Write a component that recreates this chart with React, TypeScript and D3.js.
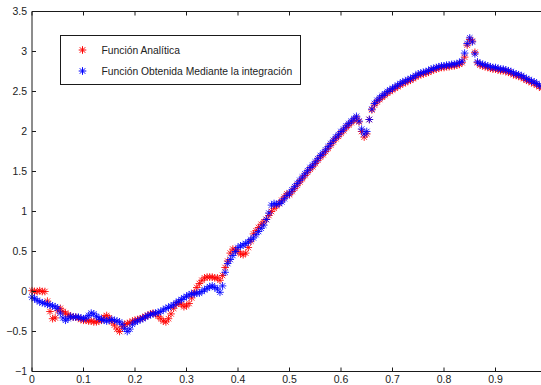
import * as d3 from "d3"

// sample step of both series (x = i * STEP)
const STEP = 0.005

const analitica = [
  0.01, 0.0, 0.0, 0.01, 0.0, 0.0, -0.12, -0.25, -0.34, -0.33,
  -0.24, -0.21, -0.25, -0.27, -0.29, -0.31, -0.32, -0.32, -0.33, -0.35,
  -0.36, -0.36, -0.37, -0.37, -0.38, -0.38, -0.37, -0.36, -0.32, -0.3,
  -0.33, -0.38, -0.42, -0.47, -0.5, -0.44, -0.41, -0.4, -0.39, -0.37,
  -0.36, -0.35, -0.34, -0.33, -0.31, -0.3, -0.28, -0.27, -0.28, -0.31,
  -0.34, -0.37, -0.38, -0.34, -0.28, -0.21, -0.16, -0.14, -0.16, -0.19,
  -0.18, -0.15, -0.08, -0.01, 0.05, 0.1, 0.14, 0.17, 0.18, 0.18,
  0.18, 0.17, 0.17, 0.14, 0.2, 0.3, 0.38, 0.48, 0.53, 0.52,
  0.5, 0.47, 0.46, 0.48, 0.55, 0.63, 0.72, 0.76, 0.8, 0.84,
  0.87, 0.9, 0.95, 1.0, 1.04, 1.07, 1.1, 1.14, 1.18, 1.22,
  1.21, 1.25, 1.29, 1.33, 1.37, 1.41, 1.45, 1.49, 1.53, 1.56,
  1.6, 1.64, 1.68, 1.71, 1.75, 1.79, 1.83, 1.87, 1.91, 1.94,
  1.98, 2.01, 2.05, 2.08, 2.11, 2.14, 2.17, 2.12, 2.0, 1.93,
  1.97, 2.15, 2.27, 2.33, 2.37, 2.4, 2.43, 2.45, 2.48, 2.5,
  2.52, 2.54, 2.56, 2.58, 2.6, 2.61, 2.63, 2.64, 2.66, 2.68,
  2.7, 2.71, 2.72, 2.73, 2.74, 2.76, 2.77, 2.78, 2.79, 2.8,
  2.8, 2.81, 2.81, 2.82, 2.82, 2.83, 2.84, 2.86, 2.93, 3.08,
  3.15, 3.13, 2.99, 2.86, 2.83, 2.82, 2.81, 2.8, 2.79, 2.78,
  2.78, 2.77, 2.76, 2.76, 2.75, 2.74, 2.73, 2.71, 2.7, 2.69,
  2.68, 2.66, 2.64, 2.63, 2.61, 2.6, 2.58, 2.56, 2.54,
]

const integracion = [
  -0.07, -0.09, -0.11, -0.13, -0.14, -0.15, -0.16, -0.17, -0.18, -0.19,
  -0.21, -0.27, -0.33, -0.36, -0.34, -0.31, -0.32, -0.32, -0.32, -0.33,
  -0.34, -0.33, -0.3, -0.27, -0.28, -0.31, -0.33, -0.35, -0.36, -0.37,
  -0.36, -0.35, -0.36, -0.37, -0.38, -0.41, -0.46, -0.5, -0.47, -0.41,
  -0.38, -0.37, -0.35, -0.34, -0.32, -0.3, -0.29, -0.28, -0.27, -0.26,
  -0.25, -0.23, -0.21, -0.2, -0.18, -0.17, -0.14, -0.12, -0.1, -0.08,
  -0.06, -0.04, -0.03, -0.03, -0.02, -0.02, 0.0, 0.02, 0.04, 0.06,
  0.07, 0.05, 0.03, -0.01, 0.07, 0.24, 0.35, 0.4, 0.45, 0.5,
  0.55, 0.57, 0.58, 0.6, 0.62, 0.65, 0.67, 0.71, 0.75, 0.79,
  0.83, 0.9, 0.98, 1.08, 1.1, 1.09, 1.1, 1.12, 1.16, 1.2,
  1.23, 1.27, 1.31, 1.35, 1.39, 1.43, 1.47, 1.51, 1.55, 1.58,
  1.62, 1.66, 1.7, 1.73, 1.77, 1.81, 1.85, 1.89, 1.93, 1.96,
  2.0, 2.03, 2.07, 2.1, 2.13, 2.16, 2.19, 2.13, 2.03, 1.97,
  2.0, 2.15, 2.28, 2.35, 2.39, 2.42, 2.45, 2.47, 2.5, 2.52,
  2.54, 2.56, 2.58, 2.6, 2.62, 2.63, 2.65, 2.66, 2.68, 2.7,
  2.72, 2.73, 2.74, 2.75, 2.76, 2.78, 2.79, 2.8, 2.81, 2.82,
  2.82, 2.83, 2.83, 2.84, 2.84, 2.85, 2.86, 2.88, 2.98, 3.1,
  3.17, 3.12, 2.97, 2.87, 2.85, 2.84, 2.83, 2.82, 2.81, 2.8,
  2.8, 2.79, 2.78, 2.78, 2.77, 2.76, 2.75, 2.73, 2.72, 2.71,
  2.7, 2.68, 2.66, 2.65, 2.63, 2.62, 2.6, 2.58, 2.56,
]

const xTicks = [0, 0.1, 0.2, 0.3, 0.4, 0.5, 0.6, 0.7, 0.8, 0.9]
const yTicks = [-1, -0.5, 0, 0.5, 1, 1.5, 2, 2.5, 3, 3.5]

const series = [
  { name: "Función Analítica", color: "#ff0000", values: analitica },
  { name: "Función Obtenida Mediante la integración", color: "#0000ff", values: integracion },
]

const width = 541
const height = 385
const axisColor = "#1a1a1a"
const font = "'Liberation Sans', Arial, sans-serif"

// MATLAB-like '*' marker: a plus and a cross
function star(cx: number, cy: number, r = 3.8) {
  const d = r * 0.72
  return `M${cx - r},${cy}H${cx + r}M${cx},${cy - r}V${cy + r}` +
    `M${cx - d},${cy - d}L${cx + d},${cy + d}M${cx - d},${cy + d}L${cx + d},${cy - d}`
}

export default function App() {
  const x = d3.scaleLinear().domain([0, 1]).range([32, 547])
  const y = d3.scaleLinear().domain([-1, 3.5]).range([371.5, 11.5])
  const fmt = d3.format("")

  const top = y(3.5)
  const bottom = y(-1)
  const left = x(0)

  return (
    <svg
      width={width}
      height={height}
      style={{ position: "absolute", left: 0, top: 0, background: "#fff" }}
      fontFamily={font}
    >
      <rect x={0} y={0} width={width} height={height} fill="#fff" />

      {/* data markers */}
      {series.map((s) => (
        <path
          key={s.name}
          d={s.values.map((v, i) => star(x(i * STEP), y(v))).join("")}
          stroke={s.color}
          strokeWidth={1}
          fill="none"
          opacity={0.85}
        />
      ))}

      {/* axes box */}
      <line x1={left} x2={width} y1={bottom} y2={bottom} stroke={axisColor} />
      <line x1={left} x2={width} y1={top} y2={top} stroke={axisColor} />
      <line x1={left} x2={left} y1={top} y2={bottom} stroke={axisColor} />

      {xTicks.map((t) => (
        <g key={"x" + t}>
          <line x1={x(t)} x2={x(t)} y1={bottom} y2={bottom - 4} stroke={axisColor} />
          <line x1={x(t)} x2={x(t)} y1={top} y2={top + 4} stroke={axisColor} />
          <text x={x(t)} y={383} textAnchor="middle" fontSize={10.5} fill="#222">
            {fmt(t)}
          </text>
        </g>
      ))}

      {yTicks.map((t) => (
        <g key={"y" + t}>
          <line x1={left} x2={left + 4} y1={y(t)} y2={y(t)} stroke={axisColor} />
          <text x={27} y={y(t)} dy="0.36em" textAnchor="end" fontSize={10.5} fill="#222">
            {fmt(t)}
          </text>
        </g>
      ))}

      {/* legend */}
      <g>
        <rect x={60.5} y={35.5} width={240} height={49} fill="#fff" stroke={axisColor} />
        {series.map((s, i) => (
          <g key={"lg" + i}>
            <path d={star(82.5, 50 + i * 21)} stroke={s.color} strokeWidth={1} fill="none" />
            <text x={101.5} y={50 + i * 21} dy="0.36em" fontSize={10.3} fill="#222">
              {s.name}
            </text>
          </g>
        ))}
      </g>
    </svg>
  )
}
